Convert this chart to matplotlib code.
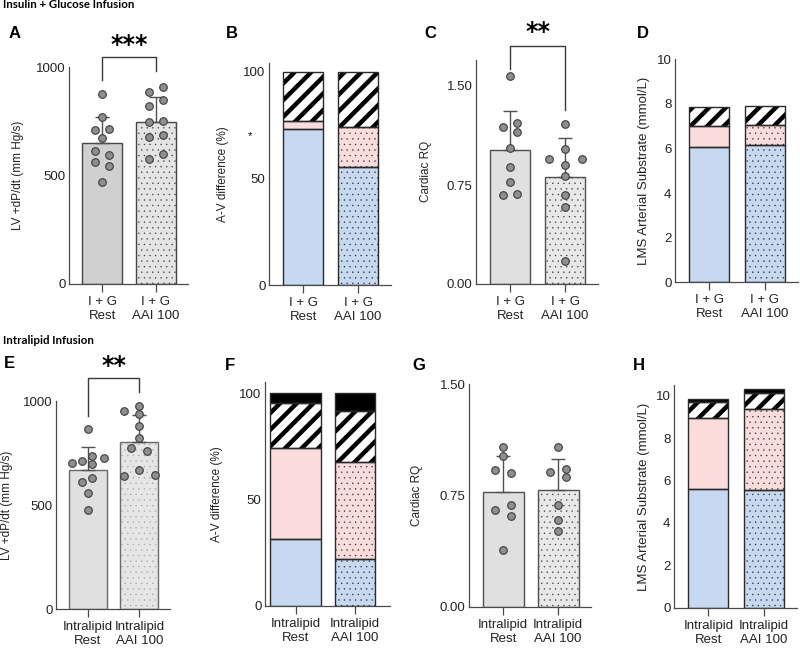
import numpy as np
import matplotlib
matplotlib.use("Agg")
from matplotlib import pyplot as plt

plt.rcParams['font.family'] = ['Liberation Sans', 'DejaVu Sans']

W, H = 800, 649

# ---- data ----
groups_ig = ["I + G\nRest", "I + G\nAAI 100"]
groups_il = ["Intralipid\nRest", "Intralipid\nAAI 100"]

# A: LV +dP/dt, insulin + glucose
A_mean = [648, 748]
A_sd = [123, 115]
A_rest = [874, 771, 710, 714, 671, 613, 594, 564, 545, 469]
A_aai = [883, 909, 822, 848, 748, 751, 676, 687, 575, 598]

# C: cardiac RQ, insulin + glucose
C_mean = [1.015, 0.808]
C_sd = [0.298, 0.296]
C_rest = [1.576, 1.187, 1.217, 1.154, 1.028, 0.889, 0.770, 0.674, 0.682]
C_aai = [1.212, 1.020, 0.944, 0.944, 0.902, 0.818, 0.677, 0.586, 0.174]

# E: LV +dP/dt, intralipid
E_mean = [669, 802]
E_sd = [109, 131]
E_rest = [864, 704, 712, 737, 725, 696, 613, 629, 560, 477]
E_aai = [976, 954, 938, 880, 821, 773, 760, 640, 669, 645]

# G: cardiac RQ, intralipid
G_mean = [0.776, 0.787]
G_sd = [0.241, 0.210]
G_rest = [1.075, 1.017, 0.922, 0.904, 0.652, 0.686, 0.612, 0.383]
G_aai = [1.080, 0.907, 0.927, 0.873, 0.686, 0.585, 0.513]

# B / D / F / H stacked segments (bottom -> top)
B_rest = [73.0, 4.0, 23.0]
B_aai = [55.5, 18.7, 25.8]
D_rest = [6.08, 0.94, 0.85]
D_aai = [6.16, 0.89, 0.85]
F_rest = [31.5, 42.6, 21.2, 4.7]
F_aai = [22.0, 45.6, 24.1, 8.3]
H_rest = [5.60, 3.36, 0.76, 0.12]
H_aai = [5.55, 3.81, 0.75, 0.19]

# x jitter of the dots (in bar-spacing units)
A_rest_dx = [0, 0, -1, 1, 0, -1, 1, -1, 1, 0]
A_aai_dx = [-1, 1, -1, 1, -1, 1, -1, 1, -1, 1]
C_rest_dx = [0, -1, 1, 1, 0, 0, 0, -1, 1]
C_aai_dx = [0, 0, -2.3, 2.3, 0, 0, 0, 0, 0]
E_rest_dx = [0, -2.2, -0.8, 0.6, 2.2, 0.6, -0.8, 0.6, 0, 0]
E_aai_dx = [0, -2.2, 0, 0, 0, -1.1, 1.1, -2.2, 0, 2.2]
G_rest_dx = [0, 0, -1, 1, -1, 1, 1, 0]
G_aai_dx = [0, -1, 1, 1, 0, 0, 0]

# ---- style ----
spine_col = '#4a4a4a'
dot_face = '#8e8e8e'
blue = '#c6d9f0'
pink = '#fbdcdc'
seg_style = [
    dict(color=blue, hatch=None),
    dict(color=pink, hatch=None),
    dict(color='white', hatch='//'),
    dict(color='black', hatch=None),
]

fig = plt.figure(figsize=(W / 100, H / 100), dpi=100)


def px_axes(left, top, bottom, spacing, xl=-0.62, xr=1.6):
    width = (xr - xl) * spacing
    ax = fig.add_axes([left / W, 1 - bottom / H, width / W, (bottom - top) / H])
    ax.set_xlim(xl, xr)
    return ax


def style_axes(ax, labels, ylim, yticks, yfmt, ylabel, label_x, lab_fs=8.5):
    ax.set_ylim(*ylim)
    ax.set_yticks(yticks)
    ax.set_yticklabels([yfmt.format(t) for t in yticks])
    ax.set_xticks([0, 1])
    ax.set_xticklabels(labels, linespacing=1.25)
    for s in ['top', 'right']:
        ax.spines[s].set_visible(False)
    for s in ['left', 'bottom']:
        ax.spines[s].set_color(spine_col)
        ax.spines[s].set_linewidth(0.9)
    ax.tick_params(axis='y', length=0, pad=2.5, labelsize=9.5, colors='#222222')
    ax.tick_params(axis='x', length=6, width=0.9, color=spine_col, pad=2.5,
                   labelsize=9.5, labelcolor='#222222')
    ax.set_ylabel(ylabel, fontsize=lab_fs, color='#222222')
    pos = ax.get_position()
    ax.yaxis.set_label_coords(label_x / W, pos.y0 + pos.height / 2,
                              transform=fig.transFigure)


def hatched_bar(ax, x, h, w, bottom, face, hatch, hcol, ecol, hlw=1.0):
    if hatch:
        b = ax.bar(x, h, w, bottom=bottom, color=face, edgecolor=hcol,
                   hatch=hatch, linewidth=0, zorder=2)
        for p in b:
            if hasattr(p, 'set_hatch_linewidth'):
                p.set_hatch_linewidth(hlw)
    else:
        ax.bar(x, h, w, bottom=bottom, color=face, linewidth=0, zorder=2)
    ax.bar(x, h, w, bottom=bottom, fill=False, edgecolor=ecol,
           linewidth=1.0, zorder=3)


def dot_panel(ax, means, sds, pts, dxs, widths, faces, dotcol, ecol, jit):
    for i in range(2):
        hatched_bar(ax, i, means[i], widths[i], 0, faces[i],
                    '...' if i == 1 else None, dotcol, ecol, hlw=0.2)
        ax.errorbar(i, means[i], yerr=[[0], [sds[i]]], color='#505050',
                    elinewidth=1.0, capsize=5, capthick=1.0, zorder=4)
        xs = i + np.array(dxs[i]) * jit
        ax.scatter(xs, pts[i], s=30, color=dot_face, edgecolor='#3c3c3c',
                   linewidth=0.8, zorder=5, clip_on=False)


def stack_panel(ax, rest, aai, widths, ecol='#2a2a2a'):
    for i, segs in enumerate([rest, aai]):
        bottom = 0
        for j, h in enumerate(segs):
            st = seg_style[j]
            if st['hatch']:
                hatched_bar(ax, i, h, widths[i], bottom, 'white', '//',
                            'black', ecol, hlw=3.2)
            elif i == 1 and j < 2:
                hatched_bar(ax, i, h, widths[i], bottom, st['color'], '...',
                            '#222222', ecol, hlw=0.2)
            else:
                hatched_bar(ax, i, h, widths[i], bottom, st['color'], None,
                            None, ecol)
            bottom += h


def bracket(ax, ytop, yl, yr, star_y, stars):
    ax.plot([0, 0, 1, 1], [yl, ytop, ytop, yr], color='#3a3a3a', lw=1.0,
            clip_on=False, zorder=6)
    ax.text(0.5, star_y, stars, ha='center', va='center', fontsize=17,
            fontweight='bold', family='DejaVu Sans', clip_on=False)


# ---- panel A ----
axA = px_axes(69, 67, 284, 53.5)
dot_panel(axA, A_mean, A_sd, [A_rest, A_aai], [A_rest_dx, A_aai_dx],
          [0.75, 0.75], ['#d0d0d0', '#e4e4e4'], '#333333', '#454545', 0.13)
style_axes(axA, groups_ig, (0, 1000), [0, 500, 1000], '{:.0f}',
           'LV +dP/dt (mm Hg/s)', 24)
bracket(axA, 1046, 940, 982, 1100, '***')

# ---- panel B ----
axB = px_axes(269, 63.2, 285, 55)
stack_panel(axB, B_rest, B_aai, [0.73, 0.73])
style_axes(axB, groups_ig, (0, 104), [0, 50, 100], '{:.0f}',
           'A-V difference (%)', 229)
fig.text(250 / W, 1 - 136 / H, '*', ha='center', va='center', fontsize=8)

# ---- panel C ----
axC = px_axes(476, 59.6, 284, 55)
dot_panel(axC, C_mean, C_sd, [C_rest, C_aai], [C_rest_dx, C_aai_dx],
          [0.73, 0.73], ['#e0e0e0', '#e8e8e8'], '#333333', '#505050', 0.13)
style_axes(axC, groups_ig, (0, 1.7), [0, 0.75, 1.5], '{:.2f}',
           'Cardiac RQ', 432)
bracket(axC, 1.80, 1.63, 1.32, 1.91, '**')

# ---- panel D ----
axD = px_axes(675, 59.3, 282.3, 55.5)
stack_panel(axD, D_rest, D_aai, [0.72, 0.73])
style_axes(axD, groups_ig, (0, 10), [0, 2, 4, 6, 8, 10], '{:.0f}',
           'LMS Arterial Substrate (mmol/L)', 650, lab_fs=9.5)

# ---- panel E ----
axE = px_axes(56, 401, 609.3, 51.5)
dot_panel(axE, E_mean, E_sd, [E_rest, E_aai], [E_rest_dx, E_aai_dx],
          [0.74, 0.74], ['#e0e0e0', '#e6e6e6'], '#a0a0a0', '#6a6a6a', 0.14)
style_axes(axE, groups_il, (0, 1000), [0, 500, 1000], '{:.0f}',
           'LV +dP/dt (mm Hg/s)', 13)
bracket(axE, 1110, 929, 1043, 1170, '**')

# ---- panel F ----
axF = px_axes(265, 381.6, 606, 59.5, xl=-0.513, xr=1.59)
stack_panel(axF, F_rest, F_aai, [0.86, 0.67])
style_axes(axF, groups_il, (0, 105.5), [0, 50, 100], '{:.0f}',
           'A-V difference (%)', 223)

# ---- panel G ----
axG = px_axes(469, 384.3, 606.7, 55)
dot_panel(axG, G_mean, G_sd, [G_rest, G_aai], [G_rest_dx, G_aai_dx],
          [0.745, 0.745], ['#e0e0e0', '#e8e8e8'], '#333333', '#505050', 0.14)
style_axes(axG, groups_il, (0, 1.5), [0, 0.75, 1.5], '{:.2f}',
           'Cardiac RQ', 423)

# ---- panel H ----
axH = px_axes(674, 385.1, 607.7, 55.5)
stack_panel(axH, H_rest, H_aai, [0.72, 0.73])
style_axes(axH, groups_il, (0, 10.5), [0, 2, 4, 6, 8, 10], '{:.0f}',
           'LMS Arterial Substrate (mmol/L)', 650, lab_fs=9.5)

# ---- panel letters and section titles ----
letters = [('A', 15, 34), ('B', 232, 34), ('C', 430, 33), ('D', 643, 34),
           ('E', 9, 364), ('F', 230, 365), ('G', 419, 365), ('H', 639, 365)]
for t, x, y in letters:
    fig.text(x / W, 1 - y / H, t, ha='center', va='center', fontsize=12,
             fontweight='bold')

fig.text(3 / W, 1 - 5 / H, 'Insulin + Glucose Infusion', ha='left',
         va='center', fontsize=8.3, fontweight='bold', family='Lato')
fig.text(3 / W, 1 - 340 / H, 'Intralipid Infusion', ha='left',
         va='center', fontsize=8.3, fontweight='bold', family='Lato')

fig.savefig('out.png', dpi=100)
